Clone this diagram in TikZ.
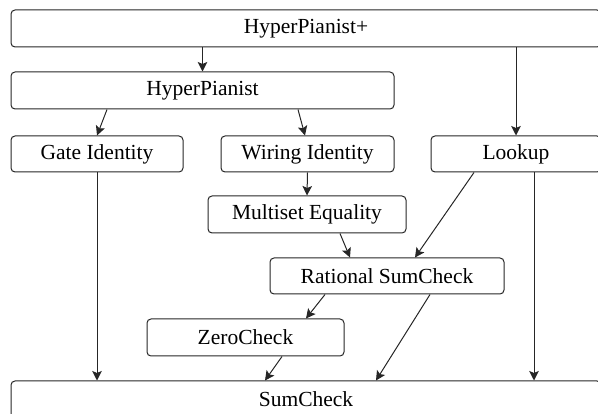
\documentclass[tikz,border=0pt]{standalone}
\usepackage{fontspec}
\setmainfont{Liberation Serif}
\usetikzlibrary{arrows.meta}
\begin{document}
\begin{tikzpicture}[x=1pt,y=-1pt,
  box/.style={draw=black!85, line width=1pt, rounded corners=4pt, inner sep=0pt,
    font=\fontsize{21.5}{24}\selectfont, text=black},
  arr/.style={draw=black!85, line width=1pt, -{Stealth[length=9.5pt,width=9.5pt,inset=2pt]}}]
\useasboundingbox (0,0) rectangle (598,414);
\clip (0,0) rectangle (598,414);
% protocol boxes
\node[box, minimum width=590pt, minimum height=37pt] (top) at (306,28.5) {HyperPianist+};
\node[box, minimum width=383pt, minimum height=37pt] (hp) at (202.5,90.5) {HyperPianist};
\node[box, minimum width=172pt, minimum height=36pt] (gate) at (97,154) {Gate Identity};
\node[box, minimum width=173pt, minimum height=36pt] (wiring) at (307.5,154) {Wiring Identity};
\node[box, minimum width=170pt, minimum height=36pt] (lookup) at (516,154) {Lookup};
\node[box, minimum width=198pt, minimum height=37pt] (multiset) at (307,214.5) {Multiset Equality};
\node[box, minimum width=234pt, minimum height=36pt] (rational) at (387,276) {Rational SumCheck};
\node[box, minimum width=197pt, minimum height=37pt] (zero) at (245.5,337.5) {ZeroCheck};
\node[box, minimum width=590pt, minimum height=37pt] (sum) at (306,399.5) {SumCheck};
% reductions
\draw[arr] (top.south -| hp.north) -- (hp.north);
\draw[arr] (top.south -| lookup.north) -- (lookup.north);
\draw[arr] ([xshift=-95.5pt]hp.south) -- (gate.north);
\draw[arr] ([xshift=95.5pt]hp.south) -- ([xshift=-2.5pt]wiring.north);
\draw[arr] (wiring.south) -- (multiset.north);
\draw[arr] ([xshift=33pt]multiset.south) -- ([xshift=-37pt]rational.north);
\draw[arr] ([xshift=-42pt]lookup.south) -- ([xshift=28pt]rational.north);
\draw[arr] ([xshift=-62pt]rational.south) -- ([xshift=60.5pt]zero.north);
\draw[arr] ([xshift=36.5pt]zero.south) -- ([xshift=-41pt]sum.north);
\draw[arr] ([xshift=43pt]rational.south) -- ([xshift=70pt]sum.north);
\draw[arr] (gate.south) -- (gate.south |- sum.north);
\draw[arr] ([xshift=18pt]lookup.south) -- ([xshift=18pt]lookup.south |- sum.north);
\end{tikzpicture}
\end{document}
